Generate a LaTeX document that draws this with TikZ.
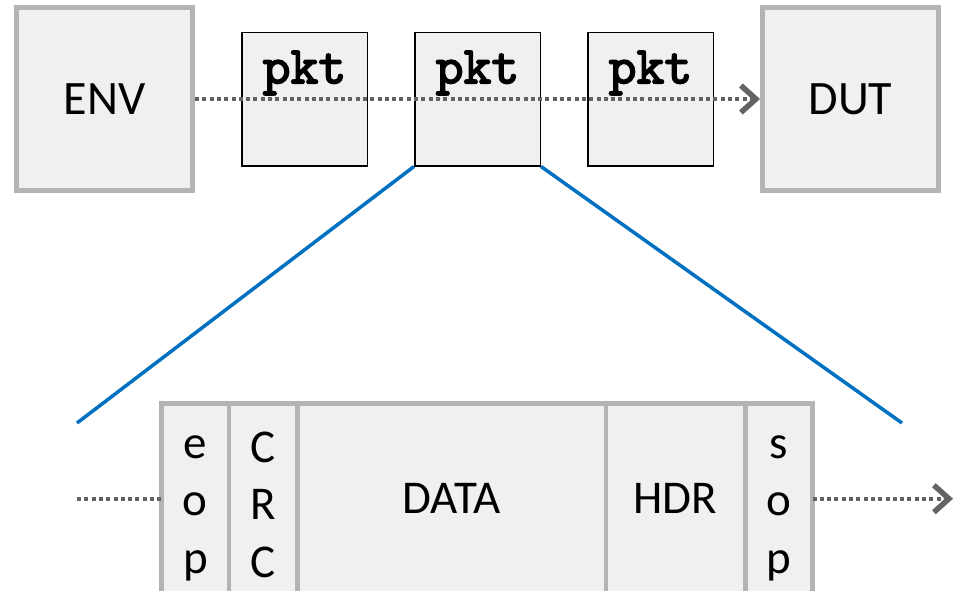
\documentclass[tikz,border=0pt]{standalone}
\usepackage{fontspec}
\setmainfont{Carlito}
\newfontfamily\pktfont{lmmono10-regular.otf}[FakeBold=3]
\usetikzlibrary{positioning,arrows.meta}
\definecolor{boxgray}{HTML}{B4B4B4}
\definecolor{boxfill}{HTML}{F0F0F0}
\definecolor{flowgray}{HTML}{636363}
\definecolor{zoomblue}{HTML}{0070C0}
\newcommand{\fieldtop}{\rule{0pt}{42pt}}
\begin{document}
\begin{tikzpicture}[x=1pt, y=-1pt, node distance=46pt,
	bigbox/.style = {draw=boxgray, line width=5pt, fill=boxfill, inner sep=0pt,
		minimum width=176pt, minimum height=183pt, font=\fontsize{48}{57}\selectfont},
	pktbox/.style = {draw=black, line width=1.5pt, fill=boxfill, inner sep=0pt,
		minimum width=125.5pt, text height=51pt, text depth=82.5pt,
		font=\pktfont\fontsize{53}{60}\selectfont},
	field/.style = {draw=boxgray, line width=4.5pt, fill=boxfill, inner sep=0pt, outer sep=0pt,
		minimum height=190pt, align=center, font=\fontsize{47}{57.5}\selectfont},
	flow/.style = {draw=flowgray, line width=4pt, dash pattern=on 4pt off 3.3pt,
		-{Straight Barb[length=15pt, width=27pt, line width=1.5pt 1]}},
	zoomline/.style = {draw=zoomblue, line width=3.5pt}]
	\useasboundingbox (0,0) rectangle (965,590);
	% top row
	\node[bigbox] (env) at (104.5,99) {ENV};
	\node[pktbox, right=of env] (pkt1) {pkt};
	\node[pktbox, right=of pkt1] (pkt2) {pkt};
	\node[pktbox, right=of pkt2] (pkt3) {pkt};
	\node[bigbox, right=of pkt3] (dut) {DUT};
	\draw[flow] (env) -- (dut);
	% packet fields
	\node[field, minimum width=67.3pt] (eop) at (195.35,498.7) {\fieldtop e\\o\\p};
	\node[field, minimum width=68.5pt, right=0pt of eop] (crc) {\fieldtop C\\R\\C};
	\node[field, minimum width=308.3pt, right=0pt of crc] (data) {DATA};
	\node[field, minimum width=139.5pt, right=0pt of data] (hdr) {HDR};
	\node[field, minimum width=67.2pt, right=0pt of hdr] (sop) {\fieldtop s\\o\\p};
	\coordinate (inL) at (77,498.7);
	\coordinate (outR) at (953,498.7);
	\draw[flow, -] (inL) -- (eop);
	\draw[flow] (sop) -- (outR);
	% zoom lines
	\coordinate (zl) at (77,423);
	\coordinate (zr) at (902,423);
	\draw[zoomline] (pkt2.south west) -- (zl);
	\draw[zoomline] (pkt2.south east) -- (zr);
\end{tikzpicture}
\end{document}
